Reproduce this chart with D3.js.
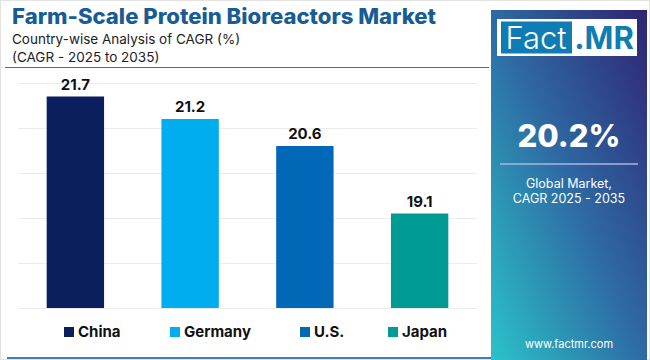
<!DOCTYPE html>
<html>
<head>
<meta charset="utf-8">
<script src="https://cdn.jsdelivr.net/npm/d3@7"></script>
<style>
    html, body { margin: 0; padding: 0; background: #fff; }
    svg { display: block; font-family: Inter, "Open Sans", sans-serif; }
</style>
</head>
<body>
<svg id="chart" width="650" height="360"></svg>
<script>
var countries = ["China", "Germany", "U.S.", "Japan"];
var cagrValues = [21.7, 21.2, 20.6, 19.1];
var barColors = ["#0b1f5e", "#00aeef", "#0068b7", "#009b95"];
var gridTicks = [17, 18, 19, 20, 21, 22];
var globalCagr = "20.2%";

var svg = d3.select("#chart");
var defs = svg.append("defs");

// outer frame
svg.append("rect")
    .attr("x", 0.5).attr("y", 0.5)
    .attr("width", 649).attr("height", 359)
    .attr("fill", "#fff")
    .attr("stroke", "#e2e2e2");

// title block
svg.append("text")
    .attr("x", 12).attr("y", 24)
    .attr("font-size", 21).attr("font-weight", 800)
    .attr("fill", "#175d94")
    .attr("textLength", 424).attr("lengthAdjust", "spacingAndGlyphs")
    .text("Farm-Scale Protein Bioreactors Market");

svg.append("text")
    .attr("x", 12).attr("y", 44)
    .attr("font-size", 13.5).attr("fill", "#222")
    .text("Country-wise Analysis of CAGR (%)");
svg.append("text")
    .attr("x", 12).attr("y", 62)
    .attr("font-size", 13.5).attr("fill", "#222")
    .text("(CAGR - 2025 to 2035)");

svg.append("line")
    .attr("x1", 5).attr("x2", 489)
    .attr("y1", 67.5).attr("y2", 67.5)
    .attr("stroke", "#2f73aa").attr("stroke-width", 1.2);

// scales
var x = d3.scaleBand()
    .domain(countries)
    .range([18, 477])
    .paddingInner(0.5)
    .paddingOuter(0.25);

var y = d3.scaleLinear()
    .domain([17, 22])
    .range([308, 83]);

// gridlines
var grid = svg.append("g")
    .attr("transform", "translate(18,0)")
    .call(d3.axisLeft(y).tickValues(gridTicks).tickSize(-459).tickFormat(""));
grid.select(".domain").remove();
grid.selectAll(".tick line").attr("stroke", "#ececec");

// bars
svg.append("g").selectAll("rect")
    .data(countries)
    .enter()
    .append("rect")
    .attr("x", function (d) { return x(d); })
    .attr("width", x.bandwidth())
    .attr("y", function (d, i) { return y(cagrValues[i]); })
    .attr("height", function (d, i) { return y(17) - y(cagrValues[i]); })
    .attr("fill", function (d, i) { return barColors[i]; });

// value labels
svg.append("g").selectAll("text")
    .data(countries)
    .enter()
    .append("text")
    .attr("x", function (d) { return x(d) + x.bandwidth() / 2; })
    .attr("y", function (d, i) { return y(cagrValues[i]) - 7; })
    .attr("text-anchor", "middle")
    .attr("font-size", 15).attr("font-weight", 700)
    .attr("fill", "#111")
    .text(function (d, i) { return cagrValues[i].toFixed(1); });

// legend
var legendX = [64, 170, 300, 388];
var legend = svg.append("g").selectAll("g")
    .data(countries)
    .enter()
    .append("g")
    .attr("transform", function (d, i) { return "translate(" + legendX[i] + ",327)"; });
legend.append("rect")
    .attr("width", 10).attr("height", 10)
    .attr("fill", function (d, i) { return barColors[i]; });
legend.append("text")
    .attr("x", 14).attr("y", 9.5)
    .attr("font-size", 15).attr("font-weight", 700)
    .attr("fill", "#111")
    .text(function (d) { return d; });

// bottom accent line
svg.append("line")
    .attr("x1", 7).attr("x2", 491)
    .attr("y1", 358).attr("y2", 358)
    .attr("stroke", "#3f7fb3").attr("stroke-width", 2);

// right panel
var grad = defs.append("linearGradient")
    .attr("id", "panelGrad")
    .attr("x1", "0%").attr("y1", "100%")
    .attr("x2", "100%").attr("y2", "0%");
grad.append("stop").attr("offset", "0%").attr("stop-color", "#2bc3c9");
grad.append("stop").attr("offset", "50%").attr("stop-color", "#2e6aa3");
grad.append("stop").attr("offset", "100%").attr("stop-color", "#2e2473");

svg.append("rect")
    .attr("x", 491).attr("y", 10)
    .attr("width", 156).attr("height", 350)
    .attr("fill", "url(#panelGrad)");

// logo
svg.append("rect")
    .attr("x", 497).attr("y", 19)
    .attr("width", 140).attr("height", 37)
    .attr("fill", "#fff");
svg.append("rect")
    .attr("x", 501).attr("y", 21.5)
    .attr("width", 71).attr("height", 32)
    .attr("fill", "#0f7db4");
svg.append("text")
    .attr("x", 536).attr("y", 49)
    .attr("text-anchor", "middle")
    .attr("font-size", 31).attr("font-weight", 300)
    .attr("fill", "#fff")
    .text("Fact");
svg.append("text")
    .attr("x", 604).attr("y", 49)
    .attr("text-anchor", "middle")
    .attr("font-size", 31).attr("font-weight", 700)
    .attr("fill", "#0f7db4")
    .text(".MR");

// panel texts
svg.append("text")
    .attr("x", 569).attr("y", 147)
    .attr("text-anchor", "middle")
    .attr("font-size", 31).attr("font-weight", 800)
    .attr("fill", "#fff")
    .text(globalCagr);
svg.append("line")
    .attr("x1", 500).attr("x2", 638)
    .attr("y1", 164).attr("y2", 164)
    .attr("stroke", "#a9b6e6").attr("stroke-width", 1.5);
svg.append("text")
    .attr("x", 569).attr("y", 188)
    .attr("text-anchor", "middle")
    .attr("font-size", 12.5).attr("fill", "#fff")
    .text("Global Market,");
svg.append("text")
    .attr("x", 569).attr("y", 203)
    .attr("text-anchor", "middle")
    .attr("font-size", 12.5).attr("fill", "#fff")
    .text("CAGR 2025 - 2035");
svg.append("text")
    .attr("x", 569).attr("y", 348)
    .attr("text-anchor", "middle")
    .attr("font-size", 11).attr("fill", "#fff")
    .text("www.factmr.com");
</script>
</body>
</html>
